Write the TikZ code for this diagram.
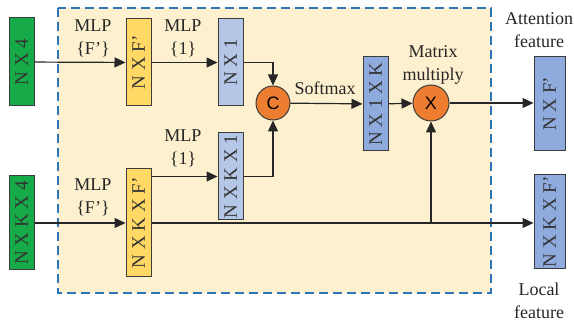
\documentclass[tikz,border=0pt]{standalone}
\usepackage{fontspec}
\setmainfont{Liberation Serif}
\newfontfamily\opfont{Liberation Sans}
\usepackage{graphicx}
\usetikzlibrary{arrows.meta}
\definecolor{InGreen}{RGB}{22,170,72}
\definecolor{MlpYellow}{RGB}{255,216,102}
\definecolor{WeightBlue}{RGB}{180,199,231}
\definecolor{OutBlue}{RGB}{143,170,220}
\definecolor{OpOrange}{RGB}{237,125,49}
\definecolor{PanelFill}{RGB}{253,240,206}
\definecolor{PanelLine}{RGB}{46,117,182}
\definecolor{EdgeGray}{RGB}{60,60,60}
\tikzset{
  feat/.style={draw=EdgeGray,line width=0.5pt,inner sep=0pt,minimum width=12.5pt,
    minimum height=43.5pt,font=\fontsize{9.5}{10}\selectfont,text=black!80},
  ingreen/.style={feat,fill=InGreen},
  mlpbox/.style={feat,fill=MlpYellow},
  wbox/.style={feat,fill=WeightBlue},
  outbox/.style={feat,fill=OutBlue},
  op/.style={circle,draw=EdgeGray,line width=0.5pt,fill=OpOrange,inner sep=0pt,
    font=\opfont\fontsize{9}{10}\selectfont},
  lbl/.style={align=center,font=\fontsize{9}{11.5}\selectfont,text=black!85},
  arrow/.style={-{Triangle[length=5.5pt,width=5pt]},line width=0.6pt,black!85},
  link/.style={line width=0.6pt,black!85},
  panel/.style={draw=PanelLine,fill=PanelFill,line width=0.6pt,
    dash pattern=on 4.5pt off 2.5pt}
}
\newcommand{\vtext}[1]{\rotatebox{90}{#1}}

\begin{document}
\begin{tikzpicture}[x=0.5pt,y=-0.5pt]
\useasboundingbox (0,0) rectangle (574,326);

% dashed module
\draw[panel] (58,8) rectangle (491,293);

% inputs
\node[ingreen,minimum height=44pt] (in1) at (21.5,62) {\vtext{N X 4}};
\node[ingreen,minimum height=47pt] (in2) at (21.5,223) {\vtext{N X K X 4}};

% shared mlps
\node[mlpbox] (mlp1) at (138.5,62.5) {\vtext{N X F'}};
\node[mlpbox,minimum height=54pt] (mlp2) at (138.5,223) {\vtext{N X K X F'}};

% weights
\node[wbox] (w1) at (230.5,62.5) {\vtext{N X 1}};
\node[wbox] (w2) at (230.5,176.5) {\vtext{N X K X 1}};

\node[op,minimum size=17pt] (cat) at (273,103) {C};
\node[outbox,minimum height=47pt] (sm) at (375.5,104) {\vtext{N X 1 X K}};
\node[op,minimum size=18pt] (mul) at (431,103) {X};

% outputs
\node[outbox,minimum width=15.5pt,minimum height=47pt] (att) at (549.5,104) {\vtext{N X F'}};
\node[outbox,minimum width=15.5pt,minimum height=47pt] (loc) at (549.5,222) {\vtext{N X K X F'}};

% labels
\node[lbl] (l1) at (93,38) {MLP\\\{F'\}};
\node[lbl] (l2) at (183,38) {MLP\\\{1\}};
\node[lbl] (l3) at (183,148) {MLP\\\{1\}};
\node[lbl] (l4) at (93,197) {MLP\\\{F'\}};
\node[lbl] (l5) at (325,88) {Softmax};
\node[lbl] (l6) at (433,65) {Matrix\\multiply};
\node[lbl] (l7) at (539,30) {Attention\\feature};
\node[lbl] (l8) at (539,301) {Local\\feature};

% connections
\draw[arrow] (in1) -- (mlp1);
\draw[arrow] (mlp1) -- (w1);
\draw[arrow] (w1.east) -| (cat.north);
\draw[arrow] (in2) -- (mlp2);
\draw[arrow] (mlp2.east |- w2.west) -- (w2.west);
\draw[arrow] (w2.east) -| (cat.south);
\draw[arrow] (cat) -- (sm);
\draw[arrow] (sm) -- (mul);
\draw[arrow] (mul) -- (att.west |- mul);
\draw[arrow] (mlp2.east) -- (loc.west |- mlp2.east);
\coordinate (jn) at (mul |- mlp2.east);
\draw[arrow] (jn) -- (mul.south);

\end{tikzpicture}
\end{document}
